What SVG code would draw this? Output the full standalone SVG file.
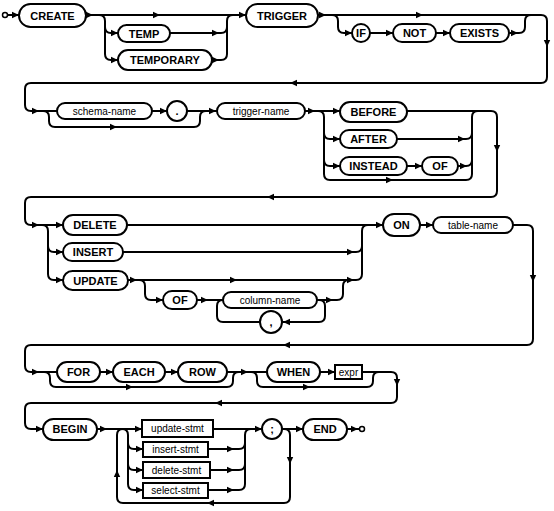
<svg xmlns="http://www.w3.org/2000/svg" width="554" height="511" viewBox="0 0 554 511">
<style>
.k{fill:#fff;stroke:#000;stroke-width:2}
.c{fill:none;stroke:#000;stroke-width:2}
.t{font-family:"Liberation Sans",Arial,sans-serif;font-weight:bold;font-size:11px;text-anchor:middle}
.n{font-family:"Liberation Sans",Arial,sans-serif;font-size:10px;text-anchor:middle}
</style>
<defs>
<path id="ar" d="M0,0 L-7,-3.2 L-7,3.2 Z" fill="#000"/>
</defs>
<rect width="554" height="511" fill="#fff"/>
<g id="connectors">
<circle cx="5" cy="15" r="2.5" fill="#fff" stroke="#000" stroke-width="1.5"/>
<path class="c" d="M7.5,15 L19,15"/>
<path class="c" d="M86,15 L246,15"/>
<path class="c" d="M99,15 Q105,15 105,21 L105,54 Q105,60 111,60 L118,60 M105,27 Q105,33 111,33 L118,33"/>
<path class="c" d="M170,33 L221,33 Q227,33 227,27 M212,60 L221,60 Q227,60 227,54 L227,21 Q227,15 233,15"/>
<path class="c" d="M318,15 L541,15 Q547,15 547,21 L547,77 Q547,83 541,83 L31,83 Q25,83 25,89 L25,105 Q25,111 31,111 L57,111"/>
<path class="c" d="M332,15 Q338,15 338,21 L338,27 Q338,33 344,33 L352,33 M370,33 L393,33 M436,33 L450,33 M509,33 L519,33 Q525,33 525,27 L525,21 Q525,15 531,15"/>
<path class="c" d="M43,111 Q49,111 49,117 L49,121 Q49,127 55,127 L194,127 Q200,127 200,121 L200,117 Q200,111 206,111"/>
<path class="c" d="M152,111 L167,111 M187,111 L217,111 M305,111 L340,111"/>
<path class="c" d="M318,111 Q324,111 324,117 L324,174 Q324,180 330,180 L466,180 Q472,180 472,174 L472,117 Q472,111 478,111 M324,133 Q324,139 330,139 L340,139 M324,160 Q324,166 330,166 L340,166"/>
<path class="c" d="M397,139 L466,139 Q472,139 472,133 M407,166 L422,166 M458,166 L466,166 Q472,166 472,160"/>
<path class="c" d="M407,111 L491,111 Q497,111 497,117 L497,191 Q497,197 491,197 L31,197 Q25,197 25,203 L25,219 Q25,225 31,225 L63,225"/>
<path class="c" d="M42,225 Q48,225 48,231 L48,274 Q48,280 54,280 L63,280 M48,246 Q48,252 54,252 L63,252"/>
<path class="c" d="M127,225 L383,225 M123,252 L356,252 Q362,252 362,246 M128,280 L356,280 Q362,280 362,274 L362,231 Q362,225 368,225"/>
<path class="c" d="M139,280 Q145,280 145,286 L145,294 Q145,300 151,300 L163,300 M197,300 L223,300"/>
<path class="c" d="M260,322 L223,322 Q217,322 217,316 L217,306 Q217,300 223,300 M317,300 L337,300 Q343,300 343,294 L343,286 Q343,280 349,280 M319,300 Q325,300 325,306 L325,316 Q325,322 319,322 L282,322"/>
<path class="c" d="M420,225 L433,225 M513,225 L527,225 Q533,225 533,231 L533,339 Q533,345 527,345 L31,345 Q25,345 25,351 L25,366 Q25,372 31,372 L57,372"/>
<path class="c" d="M44,372 Q50,372 50,378 L50,381 Q50,387 56,387 L227,387 Q233,387 233,381 L233,378 Q233,372 239,372 M100,372 L113,372 M165,372 L178,372 M227,372 L267,372"/>
<path class="c" d="M251,372 Q257,372 257,378 L257,381 Q257,387 263,387 L367,387 Q373,387 373,381 L373,378 Q373,372 379,372 M320,372 L335,372"/>
<path class="c" d="M362,372 L391,372 Q397,372 397,378 L397,397 Q397,403 391,403 L31,403 Q25,403 25,409 L25,423 Q25,429 31,429 L43,429"/>
<path class="c" d="M97,429 L142,429 M122,429 Q128,429 128,435 L128,484 Q128,490 134,490 L143,490 M128,443 Q128,449 134,449 L143,449 M128,464 Q128,470 134,470 L143,470"/>
<path class="c" d="M213,429 L262,429 M208,449 L239,449 Q245,449 245,443 M210,470 L239,470 Q245,470 245,464 M208,490 L239,490 Q245,490 245,484 L245,435 Q245,429 251,429"/>
<path class="c" d="M282,429 L303,429 M284,429 Q290,429 290,435 L290,497 Q290,503 284,503 L123,503 Q117,503 117,497 L117,435 Q117,429 123,429"/>
<path class="c" d="M347,429 L359,429"/>
<circle cx="362" cy="429" r="2.5" fill="#fff" stroke="#000" stroke-width="1.5"/>
<use href="#ar" transform="translate(19,15)"/>
<use href="#ar" transform="translate(93,15)"/>
<use href="#ar" transform="translate(160,15)"/>
<use href="#ar" transform="translate(246,15)"/>
<use href="#ar" transform="translate(118,33)"/>
<use href="#ar" transform="translate(118,60)"/>
<use href="#ar" transform="translate(219,33)"/>
<use href="#ar" transform="translate(219,60)"/>
<use href="#ar" transform="translate(326,15)"/>
<use href="#ar" transform="translate(423,15)"/>
<use href="#ar" transform="translate(352,33)"/>
<use href="#ar" transform="translate(393,33)"/>
<use href="#ar" transform="translate(450,33)"/>
<use href="#ar" transform="translate(518,33)"/>
<use href="#ar" transform="translate(547,47) rotate(90)"/>
<use href="#ar" transform="translate(290,83) rotate(180)"/>
<use href="#ar" transform="translate(39,111)"/>
<use href="#ar" transform="translate(117,127)"/>
<use href="#ar" transform="translate(167,111)"/>
<use href="#ar" transform="translate(216,111)"/>
<use href="#ar" transform="translate(315,111)"/>
<use href="#ar" transform="translate(340,111)"/>
<use href="#ar" transform="translate(340,139)"/>
<use href="#ar" transform="translate(340,166)"/>
<use href="#ar" transform="translate(393,180)"/>
<use href="#ar" transform="translate(465,139)"/>
<use href="#ar" transform="translate(422,166)"/>
<use href="#ar" transform="translate(467,166)"/>
<use href="#ar" transform="translate(497,152) rotate(90)"/>
<use href="#ar" transform="translate(267,197) rotate(180)"/>
<use href="#ar" transform="translate(39,225)"/>
<use href="#ar" transform="translate(63,225)"/>
<use href="#ar" transform="translate(63,252)"/>
<use href="#ar" transform="translate(63,280)"/>
<use href="#ar" transform="translate(354,252)"/>
<use href="#ar" transform="translate(137,280)"/>
<use href="#ar" transform="translate(237,280)"/>
<use href="#ar" transform="translate(354,280)"/>
<use href="#ar" transform="translate(163,300)"/>
<use href="#ar" transform="translate(208,300)"/>
<use href="#ar" transform="translate(333,300)"/>
<use href="#ar" transform="translate(283,322) rotate(180)"/>
<use href="#ar" transform="translate(383,225)"/>
<use href="#ar" transform="translate(433,225)"/>
<use href="#ar" transform="translate(533,282) rotate(90)"/>
<use href="#ar" transform="translate(283,345) rotate(180)"/>
<use href="#ar" transform="translate(39,372)"/>
<use href="#ar" transform="translate(113,372)"/>
<use href="#ar" transform="translate(178,372)"/>
<use href="#ar" transform="translate(133,387)"/>
<use href="#ar" transform="translate(248,372)"/>
<use href="#ar" transform="translate(310,387)"/>
<use href="#ar" transform="translate(335,372)"/>
<use href="#ar" transform="translate(397,386) rotate(90)"/>
<use href="#ar" transform="translate(215,403) rotate(180)"/>
<use href="#ar" transform="translate(43,429)"/>
<use href="#ar" transform="translate(107,429)"/>
<use href="#ar" transform="translate(142,429)"/>
<use href="#ar" transform="translate(143,449)"/>
<use href="#ar" transform="translate(143,470)"/>
<use href="#ar" transform="translate(143,490)"/>
<use href="#ar" transform="translate(234,449)"/>
<use href="#ar" transform="translate(234,470)"/>
<use href="#ar" transform="translate(234,490)"/>
<use href="#ar" transform="translate(262,429)"/>
<use href="#ar" transform="translate(303,429)"/>
<use href="#ar" transform="translate(358,429)"/>
<use href="#ar" transform="translate(290,464) rotate(90)"/>
<use href="#ar" transform="translate(207,503) rotate(180)"/>
<use href="#ar" transform="translate(117,470) rotate(-90)"/>
</g>
<g id="n-create"><rect class="k" x="19" y="4" width="67" height="23" rx="11.5"/><text class="t" x="52.5" y="19.5">CREATE</text></g>
<g id="n-temp"><rect class="k" x="118" y="25" width="52" height="17" rx="8.5"/><text class="t" x="144" y="37.5">TEMP</text></g>
<g id="n-temporary"><rect class="k" x="118" y="50" width="94" height="20" rx="10"/><text class="t" x="165" y="64">TEMPORARY</text></g>
<g id="n-trigger"><rect class="k" x="246" y="4" width="72" height="23" rx="11.5"/><text class="t" x="282" y="19.5">TRIGGER</text></g>
<g id="n-if"><rect class="k" x="352" y="24" width="18" height="18" rx="9"/><text class="t" x="361" y="37">IF</text></g>
<g id="n-not"><rect class="k" x="393" y="24" width="43" height="18" rx="9"/><text class="t" x="414.5" y="37">NOT</text></g>
<g id="n-exists"><rect class="k" x="450" y="24" width="59" height="18" rx="9"/><text class="t" x="479.5" y="37">EXISTS</text></g>
<g id="n-schema-name"><rect class="k" x="57" y="103" width="95" height="16" rx="8"/><text class="n" x="104.5" y="114.5">schema-name</text></g>
<g id="n-dot"><circle class="k" cx="177" cy="111" r="10"/><text class="t" x="177" y="115">.</text></g>
<g id="n-trigger-name"><rect class="k" x="217" y="103" width="88" height="16" rx="8"/><text class="n" x="261" y="114.5">trigger-name</text></g>
<g id="n-before"><rect class="k" x="340" y="102" width="67" height="20" rx="10"/><text class="t" x="373.5" y="116">BEFORE</text></g>
<g id="n-after"><rect class="k" x="340" y="130" width="57" height="18" rx="9"/><text class="t" x="368.5" y="143">AFTER</text></g>
<g id="n-instead"><rect class="k" x="340" y="157" width="67" height="18" rx="9"/><text class="t" x="373.5" y="170">INSTEAD</text></g>
<g id="n-of1"><rect class="k" x="422" y="157" width="36" height="18" rx="9"/><text class="t" x="440" y="170">OF</text></g>
<g id="n-delete"><rect class="k" x="63" y="215" width="64" height="20" rx="10"/><text class="t" x="95" y="229">DELETE</text></g>
<g id="n-insert"><rect class="k" x="63" y="243" width="60" height="18" rx="9"/><text class="t" x="93" y="256">INSERT</text></g>
<g id="n-update"><rect class="k" x="63" y="271" width="65" height="19" rx="9.5"/><text class="t" x="95.5" y="284.5">UPDATE</text></g>
<g id="n-of2"><rect class="k" x="163" y="291" width="34" height="18" rx="9"/><text class="t" x="180" y="304">OF</text></g>
<g id="n-column-name"><rect class="k" x="223" y="292" width="94" height="16" rx="8"/><text class="n" x="270" y="303.5">column-name</text></g>
<g id="n-comma"><circle class="k" cx="271" cy="322" r="11"/><text class="t" x="271" y="326">,</text></g>
<g id="n-on"><rect class="k" x="383" y="214" width="37" height="22" rx="11"/><text class="t" x="401.5" y="229">ON</text></g>
<g id="n-table-name"><rect class="k" x="433" y="217" width="80" height="16" rx="8"/><text class="n" x="473" y="228.5">table-name</text></g>
<g id="n-for"><rect class="k" x="57" y="362" width="43" height="20" rx="10"/><text class="t" x="78.5" y="376">FOR</text></g>
<g id="n-each"><rect class="k" x="113" y="362" width="52" height="20" rx="10"/><text class="t" x="139" y="376">EACH</text></g>
<g id="n-row"><rect class="k" x="178" y="362" width="49" height="20" rx="10"/><text class="t" x="202.5" y="376">ROW</text></g>
<g id="n-when"><rect class="k" x="267" y="362" width="53" height="20" rx="10"/><text class="t" x="293.5" y="376">WHEN</text></g>
<g id="n-expr"><rect class="k" x="335" y="365" width="27" height="14"/><text class="n" x="348.5" y="375.5">expr</text></g>
<g id="n-begin"><rect class="k" x="43" y="419" width="54" height="21" rx="10.5"/><text class="t" x="70" y="433">BEGIN</text></g>
<g id="n-update-stmt"><rect class="k" x="142" y="420" width="71" height="17"/><text class="n" x="177.5" y="432">update-stmt</text></g>
<g id="n-insert-stmt"><rect class="k" x="143" y="442" width="65" height="15"/><text class="n" x="175.5" y="453">insert-stmt</text></g>
<g id="n-delete-stmt"><rect class="k" x="143" y="462" width="67" height="16"/><text class="n" x="176.5" y="473.5">delete-stmt</text></g>
<g id="n-select-stmt"><rect class="k" x="143" y="483" width="65" height="15"/><text class="n" x="175.5" y="494">select-stmt</text></g>
<g id="n-semi"><circle class="k" cx="272" cy="429" r="10"/><text class="t" x="272" y="433">;</text></g>
<g id="n-end"><rect class="k" x="303" y="419" width="44" height="21" rx="10.5"/><text class="t" x="325" y="433">END</text></g>
</svg>
